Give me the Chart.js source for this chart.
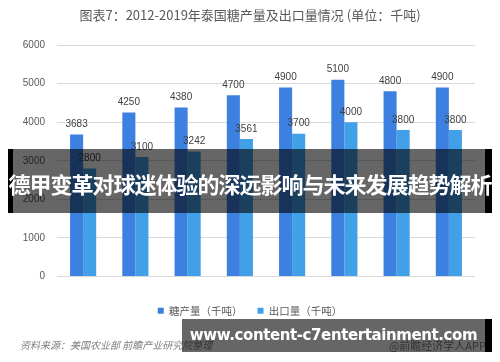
<!DOCTYPE html>
<html>
<head>
<meta charset="utf-8">
<script src="https://cdn.jsdelivr.net/npm/chart.js@4.4.1/dist/chart.umd.min.js"></script>
<style>
  html, body { margin: 0; padding: 0; background: #fff; }
  #wrap { position: relative; width: 500px; height: 362px; overflow: hidden;
          font-family: "Noto Sans CJK SC", "Noto Sans", sans-serif; }
  #chart { position: absolute; left: 0; top: 0; }
  .title { position: absolute; top: 6px; left: 0; width: 500px; text-align: center;
           font-size: 13px; color: #595959; line-height: 18px; }
  .source { position: absolute; left: 20px; top: 338px; font-size: 10px; color: #7f7f7f;
            font-style: italic; line-height: 14px; }
  .app { position: absolute; right: 14px; top: 338px; font-size: 11px; color: #7f7f7f; line-height: 14px; }
  .band { position: absolute; left: 8px; top: 149px; width: 484px; height: 64px; box-sizing: border-box;
          background: rgba(0,0,0,0.6); border-left: 5px solid #000; border-right: 7px solid #000; }
  .bandText { position: absolute; left: 0; top: 170px; width: 500px; text-align: center; white-space: nowrap;
              font-size: 22px; font-weight: bold; color: #fff; letter-spacing: -1px; line-height: 26px; }
  .band2 { position: absolute; left: 182px; top: 319px; width: 310px; height: 33px; box-sizing: border-box;
           background: rgba(0,0,0,0.6); border-right: 7px solid #000; }
  .band2Text { position: absolute; left: 182px; top: 325px; width: 303px; text-align: center; white-space: nowrap;
               font-family: "DejaVu Sans", sans-serif; font-size: 15px; font-weight: bold; color: #fff;
               letter-spacing: -0.4px; line-height: 20px; }
</style>
</head>
<body>
<div id="wrap">
  <canvas id="chart" width="500" height="362"></canvas>
  <div class="title">图表7：2012-2019年泰国糖产量及出口量情况 (单位：千吨)</div>
  <div class="source">资料来源：美国农业部 前瞻产业研究院整理</div>
  <div class="app">@前瞻经济学人APP</div>
  <div class="band"></div>
  <div class="bandText">德甲变革对球迷体验的深远影响与未来发展趋势解析</div>
  <div class="band2"></div>
  <div class="band2Text">www.content-c7entertainment.com</div>
</div>
<script>
// 연도 / 시리즈
const years = ['2012年', '2013年', '2014年', '2015年', '2016年', '2017年', '2018年', '2019E'];
const sugarOutput = [3683, 4250, 4380, 4700, 4900, 5100, 4800, 4900];
const sugarExport = [2800, 3100, 3242, 3561, 3700, 4000, 3800, 3800];
const seriesNames = ['糖产量（千吨）', '出口量（千吨）'];
const yTicks = [0, 1000, 2000, 3000, 4000, 5000, 6000];

const TEXT = '#595959';

// 막대 위 값 표시
const valueLabels = {
  id: 'valueLabels',
  afterDatasetsDraw(chart) {
    const { ctx } = chart;
    ctx.save();
    ctx.font = '10px "Liberation Sans", "Noto Sans", sans-serif';
    ctx.fillStyle = '#404040';
    ctx.textAlign = 'center';
    ctx.textBaseline = 'middle';
    chart.data.datasets.forEach((ds, i) => {
      chart.getDatasetMeta(i).data.forEach((bar, j) => {
        ctx.fillText(String(ds.data[j]), bar.x, bar.y - 10);
      });
    });
    ctx.restore();
  }
};

new Chart(document.getElementById('chart'), {
  type: 'bar',
  data: {
    labels: years,
    datasets: [
      { label: seriesNames[0], data: sugarOutput, backgroundColor: '#3c80e0',
        categoryPercentage: 0.5, barPercentage: 1.0 },
      { label: seriesNames[1], data: sugarExport, backgroundColor: '#42a0e8',
        categoryPercentage: 0.5, barPercentage: 1.0 }
    ]
  },
  options: {
    responsive: false,
    animation: false,
    layout: { padding: { top: 45, right: 0, left: 0, bottom: 36 } },
    plugins: {
      legend: {
        position: 'bottom',
        labels: {
          boxWidth: 6, boxHeight: 6, padding: 15, color: TEXT,
          font: { size: 10.5, family: '"Noto Sans CJK SC", sans-serif' }
        }
      },
      tooltip: { enabled: false }
    },
    scales: {
      x: {
        grid: { display: false },
        border: { display: false },
        ticks: { color: TEXT, padding: 8, font: { size: 10.5, family: '"Liberation Sans", "Noto Sans CJK SC", sans-serif' } },
        afterFit(scale) { scale.height = 14; }
      },
      y: {
        min: 0,
        max: 6000,
        afterBuildTicks(scale) { scale.ticks = yTicks.map(v => ({ value: v })); },
        grid: { color: '#d9d9d9', drawTicks: false },
        border: { display: false },
        ticks: {
          color: TEXT, padding: 12, font: { size: 10, family: '"Liberation Sans", sans-serif' },
          callback: v => String(v)
        },
        afterFit(scale) { scale.width = 57; }
      },
      // 오른쪽 여백용 빈 축 (범례가 전체 폭 기준으로 가운데 오도록)
      spacer: {
        position: 'right',
        min: 0,
        max: 6000,
        grid: { display: false },
        border: { display: false },
        ticks: { display: false },
        afterFit(scale) { scale.width = 25; }
      }
    }
  },
  plugins: [valueLabels]
});
</script>
</body>
</html>
